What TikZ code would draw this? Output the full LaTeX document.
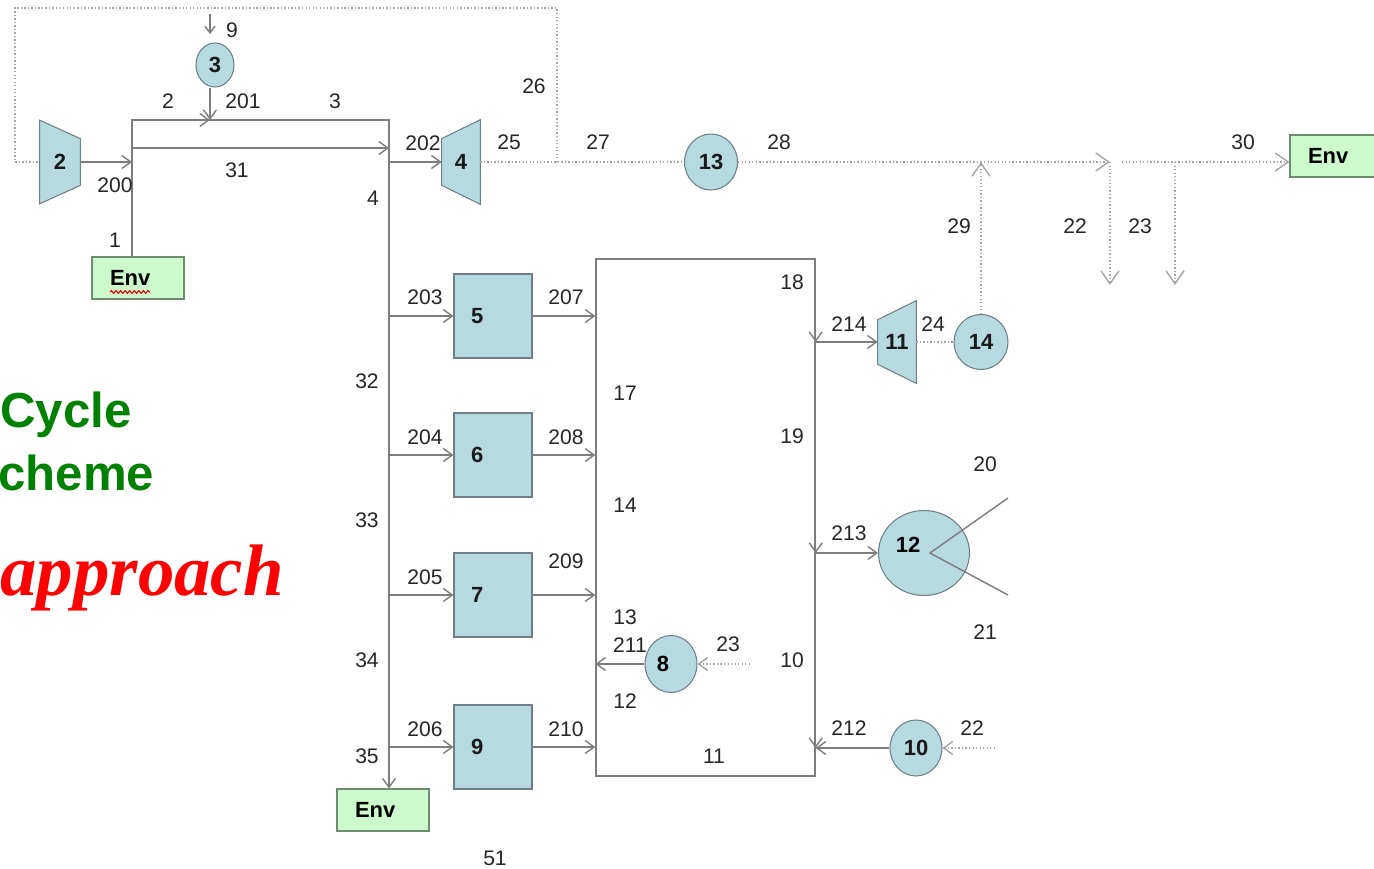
\documentclass[tikz,border=0pt]{standalone}
\usepackage{fontspec}
\setmainfont{Liberation Sans}
\newfontfamily\timesfont{Liberation Serif}
\usetikzlibrary{shapes.geometric,arrows.meta,backgrounds,decorations.pathmorphing}
\definecolor{unitblue}{RGB}{183,218,224}
\definecolor{unitedge}{RGB}{110,128,134}
\definecolor{envgreen}{RGB}{204,250,204}
\definecolor{envedge}{RGB}{110,140,110}
\definecolor{pipegray}{RGB}{125,125,125}
\definecolor{siggray}{RGB}{165,165,165}
\definecolor{titlegreen}{RGB}{0,128,0}
\begin{document}
\begin{tikzpicture}[x=0.02cm, y=-0.02cm,
  font=\fontsize{12}{14}\selectfont,
  lbl/.style={text=black!85, inner sep=1pt},
  unitfont/.style={font=\fontsize{12.5}{14}\selectfont\bfseries},
  unit/.style={draw=unitedge, fill=unitblue, line width=0.6pt, unitfont, inner sep=0pt, text=black!90},
  unitbox/.style={unit, rectangle, minimum width=1.56cm, minimum height=1.68cm, text width=0.88cm, align=left},
  circ/.style={unit, ellipse},
  trap/.style={unitfont, inner sep=0pt, text=black!90},
  envbox/.style={draw=envedge, fill=envgreen, line width=0.6pt, font=\fontsize{12.5}{14}\selectfont\bfseries,
                 minimum height=0.84cm, text width=1.12cm, inner xsep=0.36cm, align=left},
  pipe/.style={draw=pipegray, line width=0.8pt},
  flow/.style={pipe, -{Straight Barb[length=1.8mm, width=2.6mm]}},
  sig/.style={draw=siggray, line width=0.8pt, dash pattern=on 0.8pt off 1.2pt},
  sigflow/.style={sig, -{Straight Barb[length=2.6mm, width=3.6mm]}},
  sigin/.style={sig, -{Straight Barb[length=1.8mm, width=2.6mm]}}
]
  \useasboundingbox (0,0) rectangle (1374,869);

  %% title fragments on the left
  \node[font=\fontsize{28}{30}\selectfont\bfseries, text=titlegreen, anchor=base west, inner sep=0pt]
    (tcycle) at (0,427) {Cycle};
  \node[font=\fontsize{28}{30}\selectfont\bfseries, text=titlegreen, anchor=base west, inner sep=0pt]
    (tscheme) at (-2,490) {cheme};
  \node[font=\timesfont\fontsize{41.5}{45}\selectfont\bfseries\itshape, text=red, anchor=base west, inner sep=0pt]
    (tapproach) at (0,595) {approach};

  %% environment boxes
  \node[envbox] (env1) at (138,278) {Env};
  \node[envbox] (env3) at (383,810) {Env};
  \node[envbox] (envr) at (1336,156) {Env};
  \draw[red!85!black, line width=0.6pt, decorate, decoration={snake, amplitude=0.8pt, segment length=2.6pt}]
    ([shift={(-28,14)}]env1.center) -- ([shift={(12,14)}]env1.center);

  %% trapezoid units (compressor 2, turbines 4 and 11)
  \node[trap, minimum width=0.8cm, minimum height=0.92cm] (t2) at (60,162) {2};
  \node[trap, minimum width=0.76cm, minimum height=0.92cm] (t4) at (461,162) {4};
  \node[trap, minimum width=0.76cm, minimum height=0.88cm] (t11) at (897,342) {11};
  \begin{scope}[on background layer]
    \path[unit] ([yshift=0.37cm]t2.north west) -- ([yshift=-0.37cm]t2.south west)
      -- (t2.south east) -- (t2.north east) -- cycle;
    \path[unit] (t4.north west) -- (t4.south west) -- ([yshift=-0.38cm]t4.south east)
      -- ([yshift=0.38cm]t4.north east) -- cycle;
    \path[unit] (t11.north west) -- (t11.south west) -- ([yshift=-0.38cm]t11.south east)
      -- ([yshift=0.38cm]t11.north east) -- cycle;
  \end{scope}

  %% round units
  \node[circ, minimum width=0.76cm, minimum height=0.88cm] (c3) at (215,65) {3};
  \node[circ, minimum width=1.06cm, minimum height=1.12cm] (c13) at (711,162) {13};
  \node[circ, minimum width=1.08cm, minimum height=1.1cm] (c14) at (981,342) {14};
  \node[circ, minimum width=1.04cm, minimum height=1.14cm,
        label={[unitfont, xshift=-0.16cm]center:8}] (c8) at (671,664) {};
  \node[circ, minimum width=1.82cm, minimum height=1.7cm,
        label={[unitfont, xshift=-0.32cm, yshift=0.16cm]center:12}] (c12) at (924,553) {};
  \node[circ, minimum width=1.04cm, minimum height=1.12cm] (c10) at (916,748) {10};

  %% box units
  \node[unitbox] (u5) at (493,316) {5};
  \node[unitbox] (u6) at (493,455) {6};
  \node[unitbox] (u7) at (493,595) {7};
  \node[unitbox] (u9) at (493,747) {9};

  %% heat exchanger block
  \node[draw=pipegray, line width=0.8pt, minimum width=4.38cm, minimum height=10.34cm, inner sep=0pt]
    (hx) at (705.5,517.5) {};

  %% junctions
  \coordinate (j1) at (132,120);
  \coordinate (j201) at (210,120);
  \coordinate (j3) at (389,120);
  \coordinate (j31) at (132,148);
  \coordinate (s9) at (210,14);
  \coordinate (s9e) at (210,34);
  \coordinate (r1) at (557,8);
  \coordinate (r2) at (15,8);
  \coordinate (m22) at (1110,162);
  \coordinate (d22) at (1110,285);
  \coordinate (m23) at (1122,162);
  \coordinate (m23b) at (1175,162);
  \coordinate (d23) at (1175,285);
  \coordinate (s23) at (750,664);
  \coordinate (s22) at (995,748);
  \coordinate (v20) at (1008,498);
  \coordinate (v21) at (1008,595);

  %% air side: compressor, combustor, splitter
  \draw[flow] (t2.east) -- (t2.east -| j1);
  \draw[flow] (j1 |- env1.north) -- (j1) -- (j3) -- (j3 |- env3.north);
  \draw[flow] (j1) -- (j201);
  \draw[flow] (j201 |- c3.south) -- (j201);
  \draw[pipe, -{Straight Barb[length=1.3mm, width=2mm]}] (s9) -- (s9e);
  \draw[flow] (j31) -- (j31 -| j3);
  \draw[flow] (t4.west -| j3) -- (t4.west);

  %% branches to the box units and into the block
  \draw[flow] (u5.west -| j3) -- (u5.west);
  \draw[flow] (u6.west -| j3) -- (u6.west);
  \draw[flow] (u7.west -| j3) -- (u7.west);
  \draw[flow] (u9.west -| j3) -- (u9.west);
  \draw[flow] (u5.east) -- (u5.east -| hx.west);
  \draw[flow] (u6.east) -- (u6.east -| hx.west);
  \draw[flow] (u7.east) -- (u7.east -| hx.west);
  \draw[flow] (u9.east) -- (u9.east -| hx.west);
  \draw[flow] (c8.west) -- (c8.west -| hx.west);
  \draw[sigin] (s23) -- (c8.east);

  %% right edge of the block
  \draw[flow] (hx.north east) -- (hx.east |- t11.west);
  \draw[flow] (hx.east |- t11.west) -- (hx.east |- c12.west);
  \draw[flow] (hx.east |- c12.west) -- (hx.east |- c10.west);
  \draw[flow] (hx.east |- t11.west) -- (t11.west);
  \draw[flow] (hx.east |- c12.west) -- (c12.west);
  \draw[flow] (c10.west) -- (hx.east |- c10.west);
  \draw[sigin] (s22) -- (c10.east);
  \draw[pipe] (v20) -- ([xshift=0.12cm]c12.center) -- (v21);

  %% signal / exhaust line
  \draw[sig] (t4.east) -- (c13.west);
  \draw[sigflow] (c13.east) -- (m22);
  \draw[sigflow] (m22) -- (d22);
  \draw[sigflow] (m23) -- (envr.west |- m23);
  \draw[sigflow] (m23b) -- (d23);
  \draw[sig] (t11.east) -- (c14.west);
  \draw[sigflow] (c14.north) -- (c14.north |- m22);
  \draw[sig] (t4.east -| r1) -- (r1) -- (r2) -- (r2 |- t2.west) -- (t2.west);

  %% stream numbers
  \node[lbl] (l9) at (232,30) {9};
  \node[lbl] (l2) at (168,101) {2};
  \node[lbl] (l201) at (243,101) {201};
  \node[lbl] (l3) at (335,101) {3};
  \node[lbl] (l200) at (115,185) {200};
  \node[lbl] (l31) at (237,170) {31};
  \node[lbl] (l1) at (115,240) {1};
  \node[lbl] (l4) at (373,198) {4};
  \node[lbl] (l202) at (423,143) {202};
  \node[lbl] (l25) at (509,142) {25};
  \node[lbl] (l26) at (534,86) {26};
  \node[lbl] (l27) at (598,142) {27};
  \node[lbl] (l28) at (779,142) {28};
  \node[lbl] (l29) at (959,226) {29};
  \node[lbl] (l22a) at (1075,226) {22};
  \node[lbl] (l23a) at (1140,226) {23};
  \node[lbl] (l30) at (1243,142) {30};
  \node[lbl] (l203) at (425,297) {203};
  \node[lbl] (l207) at (566,297) {207};
  \node[lbl] (l32) at (367,381) {32};
  \node[lbl] (l204) at (425,437) {204};
  \node[lbl] (l208) at (566,437) {208};
  \node[lbl] (l33) at (367,520) {33};
  \node[lbl] (l205) at (425,577) {205};
  \node[lbl] (l209) at (566,561) {209};
  \node[lbl] (l34) at (367,660) {34};
  \node[lbl] (l206) at (425,729) {206};
  \node[lbl] (l210) at (566,729) {210};
  \node[lbl] (l35) at (367,756) {35};
  \node[lbl] (l51) at (495,858) {51};
  \node[lbl] (l18) at (792,282) {18};
  \node[lbl] (l17) at (625,393) {17};
  \node[lbl] (l19) at (792,436) {19};
  \node[lbl] (l14) at (625,505) {14};
  \node[lbl] (l13) at (625,617) {13};
  \node[lbl] (l211) at (630,645) {211};
  \node[lbl] (l23b) at (728,644) {23};
  \node[lbl] (l10) at (792,660) {10};
  \node[lbl] (l12) at (625,701) {12};
  \node[lbl] (l11) at (714,756) {11};
  \node[lbl] (l214) at (849,324) {214};
  \node[lbl] (l24) at (933,324) {24};
  \node[lbl] (l213) at (849,533) {213};
  \node[lbl] (l20) at (985,464) {20};
  \node[lbl] (l21) at (985,632) {21};
  \node[lbl] (l212) at (849,728) {212};
  \node[lbl] (l22b) at (972,728) {22};
\end{tikzpicture}
\end{document}
